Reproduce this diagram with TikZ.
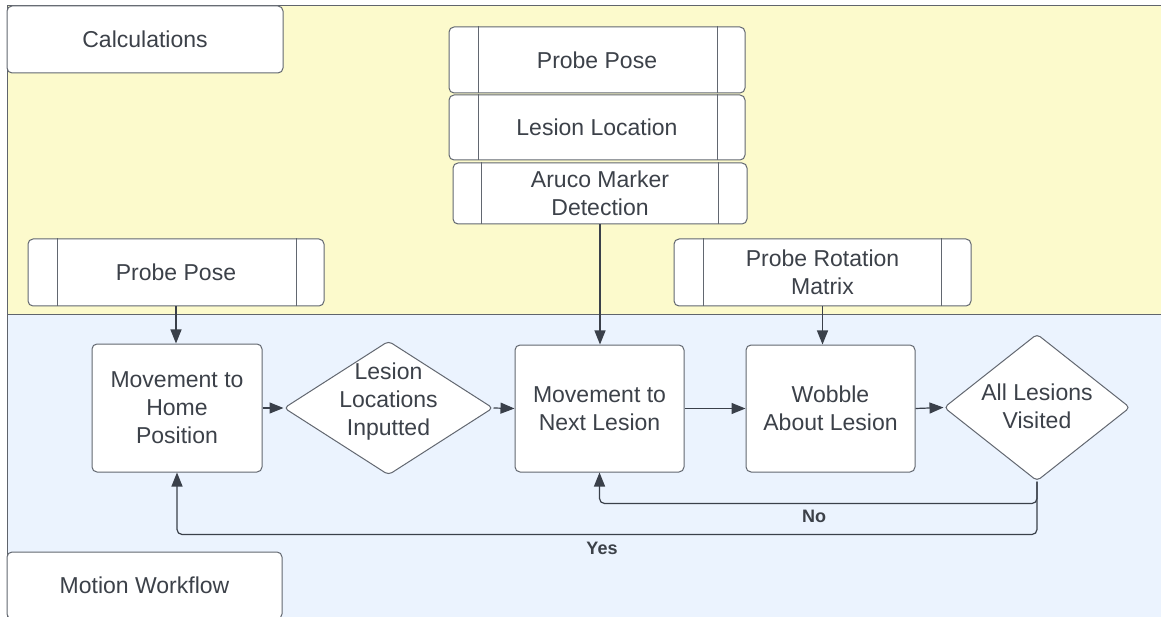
\documentclass[tikz,border=0pt]{standalone}
\usepackage{fontspec}
\setmainfont{Liberation Sans}
\usetikzlibrary{shapes.geometric,arrows.meta}
\definecolor{laneY}{RGB}{252,250,204}
\definecolor{laneB}{RGB}{235,243,254}
\definecolor{boxline}{RGB}{98,103,112}
\definecolor{laneline}{RGB}{95,100,108}
\definecolor{arrowc}{RGB}{58,64,74}
\definecolor{txtc}{RGB}{60,65,73}
\tikzset{
  lane/.style={draw=laneline, line width=1pt},
  box/.style={draw=boxline, line width=1pt, fill=white, rounded corners=5pt, rectangle, inner sep=2pt,
              text=txtc, align=center, font=\fontsize{23}{28}\selectfont},
  dia/.style={draw=boxline, line width=1pt, fill=white, diamond, inner sep=0pt, rounded corners=4pt},
  dtext/.style={text=txtc, align=center, font=\fontsize{23}{28}\selectfont, inner sep=0pt},
  innerln/.style={draw=boxline, line width=1pt},
  arr/.style={draw=arrowc, line width=1.2pt, -{Triangle[length=14pt,width=11pt]}},
  loopln/.style={draw=arrowc, line width=1.2pt, rounded corners=5pt, -{Triangle[length=14pt,width=11pt]}},
  lbl/.style={text=txtc, font=\fontsize{18}{20}\selectfont\bfseries, inner sep=0pt},
}
\begin{document}
\begin{tikzpicture}[x=1pt,y=-1pt]
\clip (0,0) rectangle (1161,617);
\fill[white] (0,0) rectangle (1161,617);
% lanes
\fill[laneY] (7,6) rectangle (1170,315);
\fill[laneB] (7,315) rectangle (1170,630);
\draw[lane] (1170,6) -- (7,6) -- (7,630);
\draw[lane] (7,315) -- (1170,315);
% lane titles
\node[box, minimum width=276pt, minimum height=67pt] (calc) at (145,39.5) {Calculations};
\node[box, minimum width=275pt, minimum height=67pt] (motion) at (144.5,585.5) {Motion Workflow};
% calculation processes
\node[box, minimum width=296pt, minimum height=66pt] (pp1) at (597,60) {Probe Pose};
\node[box, minimum width=296pt, minimum height=65pt] (lesloc) at (597,127.5) {Lesion Location};
\node[box, minimum width=294pt, minimum height=61pt] (aruco) at (600,193.5) {Aruco Marker\\Detection};
\node[box, minimum width=296pt, minimum height=67pt] (pp2) at (176,272.5) {Probe Pose};
\node[box, minimum width=297pt, minimum height=67pt] (rot) at (822.5,272.5) {Probe Rotation\\Matrix};
\foreach \n/\l/\r in {pp1/30/28, lesloc/30/28, aruco/29/29, pp2/30/28, rot/30/30}{
  \draw[innerln] ([xshift=\l pt]\n.north west) -- ([xshift=\l pt]\n.south west);
  \draw[innerln] ([xshift=-\r pt]\n.north east) -- ([xshift=-\r pt]\n.south east);
}
% workflow
\node[box, minimum width=170pt, minimum height=128pt] (home) at (177,408) {Movement to\\Home\\Position};
\node[dia, minimum width=209pt, minimum height=134pt] (d1) at (388.5,408) {};
\node[dtext] (d1t) at (388.5,402) {Lesion\\Locations\\Inputted};
\node[box, minimum width=169pt, minimum height=127pt] (next) at (599.5,408.5) {Movement to\\Next Lesion};
\node[box, minimum width=169pt, minimum height=127pt] (wob) at (830.5,408.5) {Wobble\\About Lesion};
\node[dia, minimum width=186pt, minimum height=147pt] (d2) at (1037,407.5) {};
\node[dtext] (d2t) at (1037,406) {All Lesions\\Visited};
% connectors
\draw[arr] (pp2.south) -- (pp2.south |- home.north);
\draw[arr] (aruco.south) -- (aruco.south |- next.north);
\draw[arr] (rot.south) -- (rot.south |- wob.north);
\draw[arr] (home.east) -- (d1.west);
\draw[arr] (d1.east) -- (next.west);
\draw[arr] (next.east) -- (wob.west);
\draw[arr] (wob.east) -- (d2.west);
\draw[loopln] (d2.south) -- ++(0,22) -| (next.south);
\draw[loopln] (d2.south) -- ++(0,53) -| (home.south);
\node[lbl] (no) at (814,516) {No};
\node[lbl] (yes) at (602,548) {Yes};
\end{tikzpicture}
\end{document}
